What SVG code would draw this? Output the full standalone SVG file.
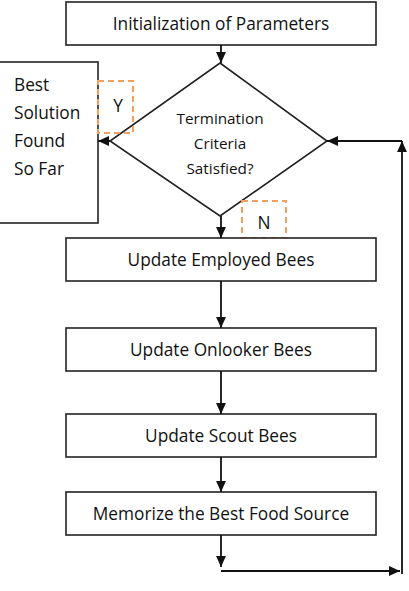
<svg xmlns="http://www.w3.org/2000/svg" width="409" height="591" viewBox="0 0 409 591">
<style>
.box{fill:#fff;stroke:#222;stroke-width:1.6}
.dash{fill:none;stroke:#f0a060;stroke-width:2;stroke-dasharray:6,4}
.t{font-family:"Open Sans","Liberation Sans",sans-serif;font-size:17.3px;fill:#111;text-anchor:middle}
.ts{font-family:"Open Sans","Liberation Sans",sans-serif;font-size:15.3px;fill:#111;text-anchor:middle}
.tl{font-family:"Open Sans","Liberation Sans",sans-serif;font-size:17.3px;fill:#111}
.c{fill:none;stroke:#111;stroke-width:1.8}
</style>
<defs>
<marker id="ah" viewBox="0 0 10 10" refX="10" refY="5" markerWidth="11" markerHeight="11" markerUnits="userSpaceOnUse" orient="auto"><path d="M0,0.5 L10,5 L0,9.5 z" fill="#111"/></marker>
</defs>
<g id="init"><rect class="box" x="66" y="2" width="310" height="43"/><text class="t" x="221" y="30">Initialization of Parameters</text></g>
<g id="decision"><path class="box" d="M220,63 L327,141 L220,216 L110,141 Z"/><text class="ts" x="220" y="124">Termination</text><text class="ts" x="220" y="149">Criteria</text><text class="ts" x="220" y="174">Satisfied?</text></g>
<g id="best"><rect class="box" x="-2" y="62" width="100" height="161"/><text class="tl" x="14" y="91">Best</text><text class="tl" x="14" y="119">Solution</text><text class="tl" x="14" y="147">Found</text><text class="tl" x="14" y="175">So Far</text></g>
<g id="labelY"><rect class="dash" x="98" y="81" width="35" height="52"/><text class="t" x="118" y="112">Y</text></g>
<g id="labelN"><rect class="dash" x="242" y="201" width="44" height="37"/><text class="t" x="264" y="229">N</text></g>
<g id="employed"><rect class="box" x="66" y="238" width="310" height="43"/><text class="t" x="221" y="266">Update Employed Bees</text></g>
<g id="onlooker"><rect class="box" x="66" y="328" width="310" height="43"/><text class="t" x="221" y="356">Update Onlooker Bees</text></g>
<g id="scout"><rect class="box" x="66" y="414" width="310" height="43"/><text class="t" x="221" y="442">Update Scout Bees</text></g>
<g id="memorize"><rect class="box" x="66" y="492" width="310" height="43"/><text class="t" x="221" y="520">Memorize the Best Food Source</text></g>
<g id="connectors">
<path class="c" d="M221,45 L221,63" marker-end="url(#ah)"/>
<path class="c" d="M110,141 L98,141" marker-end="url(#ah)"/>
<path class="c" d="M221,216 L221,238" marker-end="url(#ah)"/>
<path class="c" d="M221,281 L221,328" marker-end="url(#ah)"/>
<path class="c" d="M221,371 L221,414" marker-end="url(#ah)"/>
<path class="c" d="M221,457 L221,492" marker-end="url(#ah)"/>
<path class="c" d="M221,535 L221,567" marker-end="url(#ah)"/>
<path class="c" d="M221,571 L400,571" marker-end="url(#ah)"/>
<path class="c" d="M402,574 L402,141" marker-end="url(#ah)"/>
<path class="c" d="M402,141 L327,141" marker-end="url(#ah)"/>
</g>
</svg>
